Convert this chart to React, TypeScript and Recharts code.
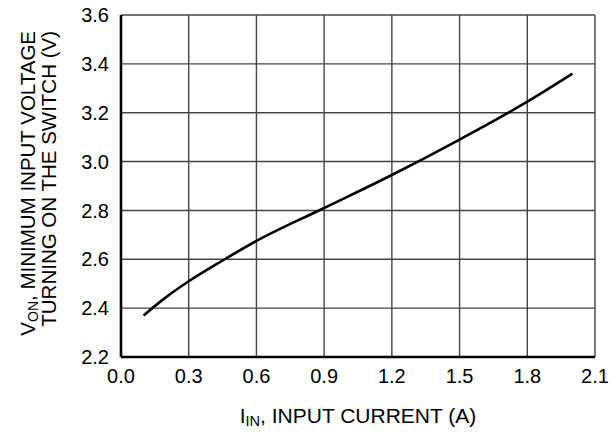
import { LineChart, Line, XAxis, YAxis, CartesianGrid } from 'recharts';

// curve
const currentA = [0.1, 0.2, 0.3, 0.45, 0.6, 0.9, 1.2, 1.5, 1.8, 2.0];
const vonV = [2.37, 2.445, 2.51, 2.595, 2.675, 2.81, 2.945, 3.09, 3.245, 3.36];

const xTicks = [0, 0.3, 0.6, 0.9, 1.2, 1.5, 1.8, 2.1];
const yTicks = [2.2, 2.4, 2.6, 2.8, 3.0, 3.2, 3.4, 3.6];

const data = currentA.map((x, i) => ({ x, v: vonV[i] }));

const font = '"Liberation Sans", Arial, Helvetica, sans-serif';
const tickStyle = { fontSize: 20, fill: '#000', fontFamily: font };

const YLabel = () => (
  <g fontFamily={font} fontSize={20.5} fill="#000">
    <text x={35} y={31} textAnchor="end" transform="rotate(-90, 35, 31)">
      V<tspan fontSize={14} dy={3}>ON</tspan>
      <tspan dy={-3}>, MINIMUM INPUT VOLTAGE</tspan>
    </text>
    <text x={56} y={31} textAnchor="end" transform="rotate(-90, 56, 31)">
      TURNING ON THE SWITCH (V)
    </text>
  </g>
);

const XLabel = () => (
  <text x={358} y={423} textAnchor="middle" fontFamily={font} fontSize={21} fill="#000">
    I<tspan fontSize={14.5} dy={3}>IN</tspan>
    <tspan dy={-3}>, INPUT CURRENT (A)</tspan>
  </text>
);

export default function App() {
  return (
    <div style={{ position: 'absolute', left: 0, top: 0, background: '#fff' }}>
      <LineChart
        width={613}
        height={434}
        data={data}
        margin={{ top: 15, right: 18, bottom: 0, left: 0 }}
      >
        <CartesianGrid stroke="#444" strokeWidth={1.4} />
        <XAxis
          dataKey="x"
          type="number"
          domain={[0, 2.1]}
          ticks={xTicks}
          tickFormatter={(v: number) => v.toFixed(1)}
          height={77}
          axisLine={{ stroke: '#000', strokeWidth: 2.6 }}
          tickLine={false}
          tickSize={6}
          tickMargin={6}
          tick={tickStyle}
          interval={0}
          label={<XLabel />}
        />
        <YAxis
          type="number"
          domain={[2.2, 3.6]}
          ticks={yTicks}
          tickFormatter={(v: number) => v.toFixed(1)}
          width={121}
          axisLine={{ stroke: '#000', strokeWidth: 2.6 }}
          tickLine={false}
          tickSize={6}
          tickMargin={6}
          tick={tickStyle}
          interval={0}
          label={<YLabel />}
        />
        <Line
          dataKey="v"
          type="monotone"
          stroke="#000"
          strokeWidth={2.6}
          dot={false}
          isAnimationActive={false}
        />
      </LineChart>
    </div>
  );
}
